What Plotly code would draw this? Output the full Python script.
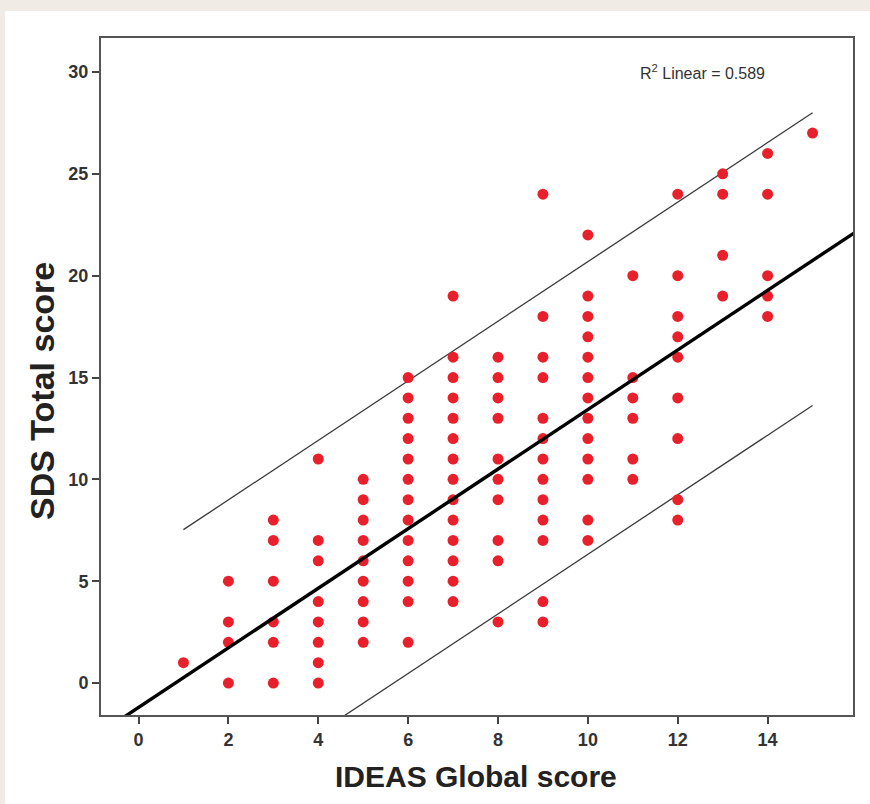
import plotly.graph_objects as go

# ---- data ----
ideas_x = [1,
           2, 2, 2, 2,
           3, 3, 3, 3, 3, 3,
           4, 4, 4, 4, 4, 4, 4, 4,
           5, 5, 5, 5, 5, 5, 5, 5, 5,
           6, 6, 6, 6, 6, 6, 6, 6, 6, 6, 6, 6, 6,
           7, 7, 7, 7, 7, 7, 7, 7, 7, 7, 7, 7, 7, 7,
           8, 8, 8, 8, 8, 8, 8, 8, 8, 8,
           9, 9, 9, 9, 9, 9, 9, 9, 9, 9, 9, 9, 9,
           10, 10, 10, 10, 10, 10, 10, 10, 10, 10, 10, 10, 10,
           11, 11, 11, 11, 11, 11,
           12, 12, 12, 12, 12, 12, 12, 12, 12,
           13, 13, 13, 13,
           14, 14, 14, 14, 14,
           15]
sds_y = [1,
         0, 2, 3, 5,
         0, 2, 3, 5, 7, 8,
         0, 1, 2, 3, 4, 6, 7, 11,
         2, 3, 4, 5, 6, 7, 8, 9, 10,
         2, 4, 5, 6, 7, 8, 9, 10, 11, 12, 13, 14, 15,
         4, 5, 6, 7, 8, 9, 10, 11, 12, 13, 14, 15, 16, 19,
         3, 6, 7, 9, 10, 11, 13, 14, 15, 16,
         3, 4, 7, 8, 9, 10, 11, 12, 13, 15, 16, 18, 24,
         7, 8, 10, 11, 12, 13, 14, 15, 16, 17, 18, 19, 22,
         10, 11, 13, 14, 15, 20,
         8, 9, 12, 14, 16, 17, 18, 20, 24,
         19, 21, 24, 25,
         18, 19, 20, 24, 26,
         27]

# fitted line and 95% individual prediction limits
fit_intercept = -1.20
fit_slope = 1.463
fit_x = [-1.0, 16.5]
pi_x = [1, 15]
pi_upper = [7.53, 28.0]
pi_lower = [-6.84, 13.63]

x_ticks = [0, 2, 4, 6, 8, 10, 12, 14]
y_ticks = [0, 5, 10, 15, 20, 25, 30]

fit_y = [fit_intercept + fit_slope * v for v in fit_x]

fig = go.Figure()
fig.add_trace(go.Scatter(x=pi_x, y=pi_upper, mode="lines",
                         line=dict(color="#3a3a3a", width=1.3),
                         hoverinfo="skip", showlegend=False))
fig.add_trace(go.Scatter(x=pi_x, y=pi_lower, mode="lines",
                         line=dict(color="#3a3a3a", width=1.3),
                         hoverinfo="skip", showlegend=False))
fig.add_trace(go.Scatter(x=ideas_x, y=sds_y, mode="markers",
                         marker=dict(color="#e8202c", size=11,
                                     line=dict(width=0)),
                         showlegend=False))
fig.add_trace(go.Scatter(x=fit_x, y=fit_y, mode="lines",
                         line=dict(color="#000000", width=3.4),
                         hoverinfo="skip", showlegend=False))

L, R, T, B = 101, 17, 38, 89
W, H = 870, 804
pw, ph = W - L - R, H - T - B

def px_to_paper_x(px):
    return (px - L) / pw

def px_to_paper_y(py):
    return (H - B - py) / ph

fig.add_shape(type="rect", xref="paper", yref="paper",
              x0=px_to_paper_x(5), x1=px_to_paper_x(875),
              y0=px_to_paper_y(810), y1=px_to_paper_y(11),
              fillcolor="white", line=dict(width=0), layer="below")

fig.add_annotation(xref="paper", yref="paper",
                   x=px_to_paper_x(702), y=px_to_paper_y(72),
                   xanchor="center", yanchor="middle",
                   text="R<sup>2</sup> Linear = 0.589", showarrow=False,
                   font=dict(family="Liberation Sans, Arial", size=16,
                             color="#333333"))

title_font = dict(family="Liberation Sans, Arial", color="#222222",
                  weight="bold")
fig.add_annotation(xref="paper", yref="paper",
                   x=px_to_paper_x(476), y=px_to_paper_y(776),
                   xanchor="center", yanchor="middle",
                   text="IDEAS Global score", showarrow=False,
                   font=dict(size=30, **title_font))
fig.add_annotation(xref="paper", yref="paper",
                   x=px_to_paper_x(42), y=px_to_paper_y(391),
                   xanchor="center", yanchor="middle", textangle=-90,
                   text="SDS Total score", showarrow=False,
                   font=dict(size=34, **title_font))

tickfont = dict(family="Liberation Sans Narrow, Liberation Sans, Arial",
                size=18, color="#333333", weight="bold")
fig.update_xaxes(range=[-0.835, 15.9], tickvals=x_ticks,
                 ticks="outside", ticklen=7, tickwidth=1.5, tickcolor="#444",
                 showline=True, linecolor="#555", linewidth=2, mirror=True,
                 showgrid=False, zeroline=False, tickfont=tickfont)
fig.update_yaxes(range=[-1.57, 31.67], tickvals=y_ticks,
                 ticks="outside", ticklen=7, tickwidth=1.5, tickcolor="#444",
                 showline=True, linecolor="#555", linewidth=2, mirror=True,
                 showgrid=False, zeroline=False, tickfont=tickfont)
fig.update_layout(width=W, height=H, margin=dict(l=L, r=R, t=T, b=B),
                  paper_bgcolor="#f0ece5", plot_bgcolor="white")

fig.write_html("out.html", config={"displayModeBar": False},
               post_script="document.body.style.margin='0';"
                           "document.body.style.padding='0';")
